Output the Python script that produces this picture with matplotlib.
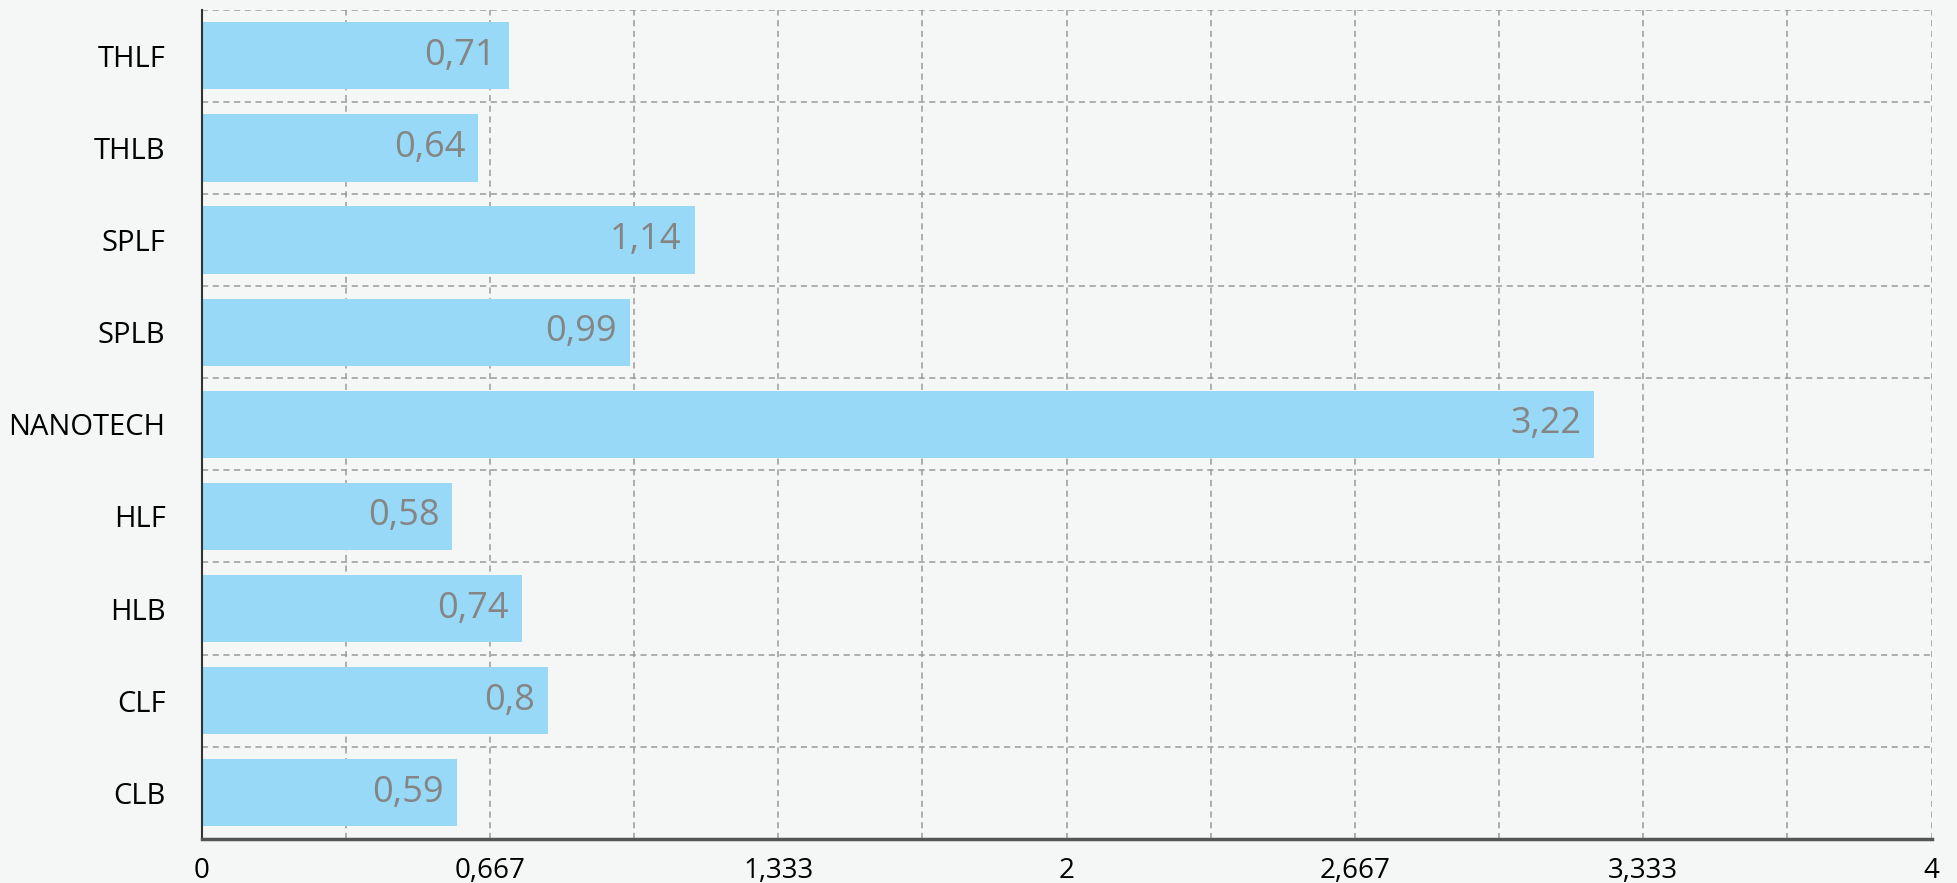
import matplotlib.pyplot as plt
import numpy as np

categories = ['THLF', 'THLB', 'SPLF', 'SPLB', 'NANOTECH', 'HLF', 'HLB', 'CLF', 'CLB']
values = [0.71, 0.64, 1.14, 0.99, 3.22, 0.58, 0.74, 0.8, 0.59]
value_labels = ['0,71', '0,64', '1,14', '0,99', '3,22', '0,58', '0,74', '0,8', '0,59']
x_ticks = [0, 2 / 3, 4 / 3, 2, 8 / 3, 10 / 3, 4]
x_tick_labels = ['0', '0,667', '1,333', '2', '2,667', '3,333', '4']

plt.rcParams['font.family'] = ['Open Sans', 'DejaVu Sans']
bg = '#f5f7f6'
bar_color = '#97d9f6'
grid_style = dict(color='#9a9a9a', linestyle=(0, (4, 3)), linewidth=1.1)

fig, ax = plt.subplots(figsize=(19.57, 8.83), dpi=100)
fig.patch.set_facecolor(bg)
ax.set_facecolor(bg)
plt.subplots_adjust(left=0.103, right=0.987, top=0.989, bottom=0.050)

# first category at the top
y = np.arange(len(categories))[::-1]
ax.barh(y, values, height=0.73, color=bar_color, zorder=2)
for yi, v, lab in zip(y, values, value_labels):
    ax.text(v - 0.03, yi, lab, ha='right', va='center', fontsize=26, color='#858585', zorder=3)

ax.set_xlim(0, 4)
ax.set_ylim(-0.5, len(categories) - 0.5)

ax.set_xticks(x_ticks)
ax.set_xticklabels(x_tick_labels, fontsize=20)
ax.set_xticks(np.arange(1, 12, 2) / 3, minor=True)
ax.set_yticks(y)
ax.set_yticklabels(categories, fontsize=21)
ax.set_yticks(np.arange(-0.5, len(categories), 1), minor=True)
ax.tick_params(axis='both', which='both', length=0)
ax.tick_params(axis='y', pad=26)
ax.tick_params(axis='x', pad=13)

ax.grid(axis='x', which='both', zorder=0, **grid_style)
ax.grid(axis='y', which='minor', zorder=0, **grid_style)
ax.set_axisbelow(True)

for side in ['top', 'right']:
    ax.spines[side].set_visible(False)
ax.spines['left'].set_color('#333333')
ax.spines['left'].set_linewidth(1.5)
ax.spines['bottom'].set_color('#555555')
ax.spines['bottom'].set_linewidth(2.5)

fig.savefig('out.png', dpi=100, facecolor=bg)
